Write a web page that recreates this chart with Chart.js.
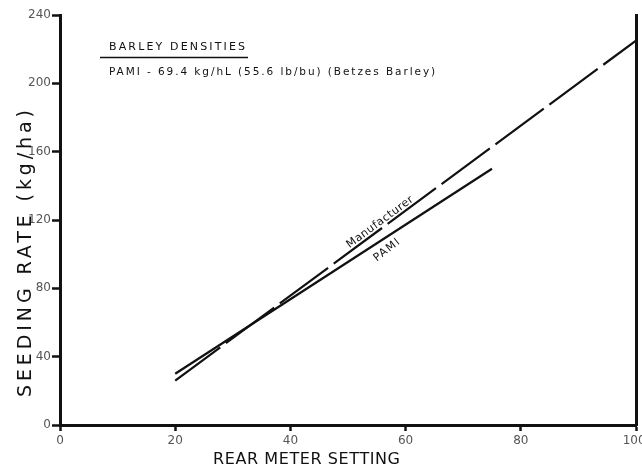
<!DOCTYPE html>
<html>
<head>
<meta charset="utf-8">
<script src="https://cdn.jsdelivr.net/npm/chart.js@4/dist/chart.umd.min.js"></script>
<style>
html,body{margin:0;padding:0;background:#fff;}
#wrap{width:642px;height:468px;}
</style>
</head>
<body>
<div id="wrap"><canvas id="c" width="642" height="468"></canvas></div>
<script>
// data
const mfrSetting=[20,100];
const mfrRate=[26,225];
const pamiSetting=[20,75];
const pamiRate=[30,150];
const xTicks=[0,20,40,60,80,100];
const yTicks=[0,40,80,120,160,200,240];

const FONT='"DejaVu Sans", sans-serif';
const INK='#111';

function pts(xs,ys){return xs.map((x,i)=>({x:x,y:ys[i]}));}

// draw text stretched to a given width with letter spacing
function spaced(ctx,txt,x,y,w){
ctx.letterSpacing='0px';
const m=ctx.measureText(txt).width;
const ls=(w-m)/Math.max(1,txt.length-1);
ctx.letterSpacing=ls.toFixed(2)+'px';
ctx.fillText(txt,x,y);
ctx.letterSpacing='0px';
}

const notes={
id:'notes',
afterDatasetsDraw(chart){
const ctx=chart.ctx;
const xs=chart.scales.x, ys=chart.scales.y;
ctx.save();
ctx.fillStyle=INK;
ctx.textBaseline='middle';
ctx.textAlign='left';

// legend-ish block
ctx.font='11px '+FONT;
spaced(ctx,'BARLEY DENSITIES',109,47,136);
ctx.strokeStyle=INK;
ctx.lineWidth=1.5;
ctx.beginPath();ctx.moveTo(100,57.5);ctx.lineTo(248,57.5);ctx.stroke();
ctx.font='10.5px '+FONT;
spaced(ctx,'PAMI - 69.4 kg/hL (55.6 lb/bu) (Betzes Barley)',109,72,326);

// axis titles
ctx.font='16px '+FONT;
ctx.textAlign='left';
spaced(ctx,'REAR METER SETTING',213,460,187);
ctx.save();
ctx.translate(26,397);
ctx.rotate(-Math.PI/2);
ctx.font='19px '+FONT;
spaced(ctx,'SEEDING RATE (kg/ha)',0,0,287);
ctx.restore();

// line labels, rotated along the lines
const ang=Math.atan2(ys.getPixelForValue(mfrRate[1])-ys.getPixelForValue(mfrRate[0]),
xs.getPixelForValue(mfrSetting[1])-xs.getPixelForValue(mfrSetting[0]));
ctx.font='11px '+FONT;
ctx.textAlign='center';
ctx.save();
ctx.translate(xs.getPixelForValue(55.6),ys.getPixelForValue(118.8));
ctx.rotate(ang);
spaced(ctx,'Manufacturer',0,0,80);
ctx.restore();
ctx.save();
ctx.translate(xs.getPixelForValue(56.8),ys.getPixelForValue(102.5));
ctx.rotate(ang-0.03);
spaced(ctx,'PAMI',0,0,30);
ctx.restore();
ctx.restore();
}
};

new Chart(document.getElementById('c'),{
type:'line',
data:{
datasets:[{
label:'Manufacturer',
data:pts(mfrSetting,mfrRate),
borderColor:INK,
borderWidth:2.2,
borderDash:[60,7],
borderDashOffset:4,
pointRadius:0,
fill:false
},{
label:'PAMI',
data:pts(pamiSetting,pamiRate),
borderColor:INK,
borderWidth:2.2,
pointRadius:0,
fill:false
}]
},
options:{
responsive:false,
animation:false,
layout:{padding:{left:0,right:6,top:15,bottom:0}},
plugins:{legend:{display:false},tooltip:{enabled:false}},
scales:{
x:{
type:'linear',min:0,max:100,
afterBuildTicks(s){s.ticks=xTicks.map(v=>({value:v}));},
afterFit(s){s.height=43;s.paddingLeft=0;s.paddingRight=0;},
grid:{drawOnChartArea:false,tickLength:6,tickWidth:2.5,tickColor:INK},
border:{color:INK,width:3},
ticks:{color:'#555',font:{family:FONT,size:12},padding:3,maxRotation:0,
callback:(v)=>v===100?'100 ':String(v)}
},
y:{
type:'linear',min:0,max:240,
afterBuildTicks(s){s.ticks=yTicks.map(v=>({value:v}));},
afterFit(s){s.width=60;s.paddingTop=0;s.paddingBottom=0;},
grid:{drawOnChartArea:false,tickLength:8,tickWidth:2.5,tickColor:INK},
border:{color:INK,width:3},
ticks:{color:'#555',font:{family:FONT,size:12},padding:1}
},
y2:{
type:'linear',position:'right',min:0,max:240,
afterFit(s){s.width=0;},
grid:{display:false,drawTicks:false},
border:{display:true,color:INK,width:3},
ticks:{display:false}
}
}
},
plugins:[notes]
});
</script>
</body>
</html>
